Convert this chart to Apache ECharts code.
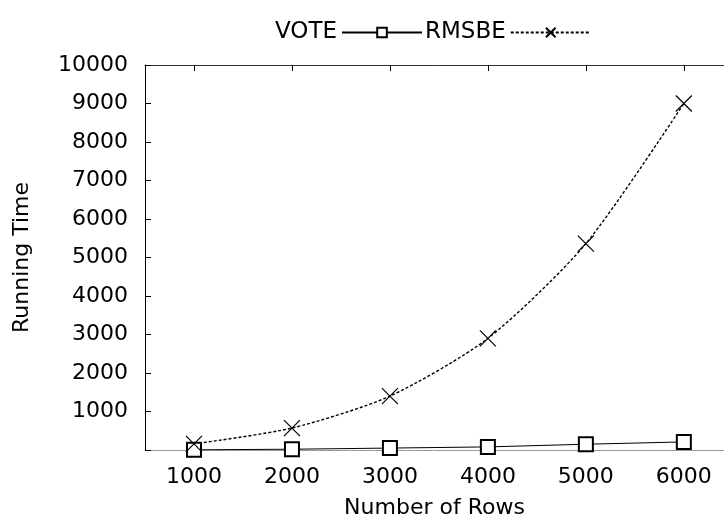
<!doctype html>
<html>
	<head>
		<meta charset="utf-8">
		<title>running time</title>
		<script src="https://cdn.jsdelivr.net/npm/echarts@6/dist/echarts.min.js"></script>
		<style>
			html, body { margin: 0; padding: 0; background: #fff; }
			#main { width: 724px; height: 524px; }
		</style>
	</head>
	<body>
		<div id="main"></div>
		<script>
			// data
			var rows = [1000, 2000, 3000, 4000, 5000, 6000];
			var vote = [5, 20, 50, 80, 150, 210];
			var rmsbe = [160, 570, 1400, 2900, 5360, 9000];

			var font = 'DejaVu Sans';
			var crossIcon = 'path://M0,0L10,10M10,0L0,10';

			function pairs(ys) {
				var out = [];
				for (var i = 0; i < rows.length; i++) {
					out.push([rows[i], ys[i]]);
				}
				return out;
			}

			var myChart = echarts.init(document.getElementById('main'));

			// x range runs past the right edge, like the original plot
			var xMin = 500, xMax = 6410;

			var option = {
				animation: false,
				backgroundColor: '#fff',
				textStyle: { fontFamily: font, color: '#000' },
				legend: {
					top: 16,
					left: 270,
					align: 'right',
					itemWidth: 80,
					itemHeight: 12,
					itemGap: 2,
					textStyle: { fontSize: 23, color: '#000', fontFamily: font },
					data: ['VOTE', 'RMSBE']
				},
				grid: { left: 145, top: 65, right: 0, height: 385 },
				xAxis: [{
					type: 'value',
					min: xMin,
					max: xMax,
					position: 'bottom',
					splitLine: { show: false },
					axisLine: { lineStyle: { color: '#999', width: 1 } },
					axisTick: { show: true, inside: true, customValues: rows, length: 6, lineStyle: { color: '#000' } },
					axisLabel: {
						customValues: rows, fontSize: 22, color: '#000', margin: 16, fontFamily: font,
						formatter: function (v) { return String(v); }
					},
					name: 'Number of Rows',
					nameLocation: 'middle',
					nameGap: 47,
					nameMoveOverlap: false,
					nameTextStyle: { fontSize: 22, color: '#000', fontFamily: font }
				}, {
					type: 'value',
					min: xMin,
					max: xMax,
					position: 'top',
					splitLine: { show: false },
					axisLine: { show: true, lineStyle: { color: '#333', width: 1 } },
					axisTick: { show: true, inside: true, customValues: rows, length: 6, lineStyle: { color: '#000' } },
					axisLabel: { show: false }
				}],
				yAxis: {
					type: 'value',
					min: 0,
					max: 10000,
					interval: 1000,
					axisLine: { show: true, lineStyle: { color: '#000', width: 1 } },
					axisTick: { show: true, inside: true, length: 6, lineStyle: { color: '#000' } },
					splitLine: { show: false },
					axisLabel: {
						fontSize: 22, color: '#000', margin: 17, fontFamily: font,
						formatter: function (v) { return v === 0 ? '' : String(v); }
					},
					name: 'Running Time',
					nameLocation: 'middle',
					nameGap: 112,
					nameMoveOverlap: false,
					nameTextStyle: { fontSize: 22, color: '#000', fontFamily: font }
				},
				series: [{
					name: 'VOTE',
					type: 'line',
					data: pairs(vote),
					symbol: 'emptyRect',
					symbolSize: 14,
					lineStyle: { color: '#000', width: 1 },
					itemStyle: { color: '#000', borderWidth: 1.2 }
				}, {
					name: 'RMSBE',
					type: 'line',
					data: pairs(rmsbe),
					smooth: 0.25,
					symbol: crossIcon,
					symbolSize: 16,
					lineStyle: { color: '#000', width: 1.4, type: [3, 2] },
					itemStyle: { color: '#000', borderColor: '#000', borderWidth: 1.2 }
				}]
			};

			myChart.setOption(option);
		</script>
	</body>
</html>
